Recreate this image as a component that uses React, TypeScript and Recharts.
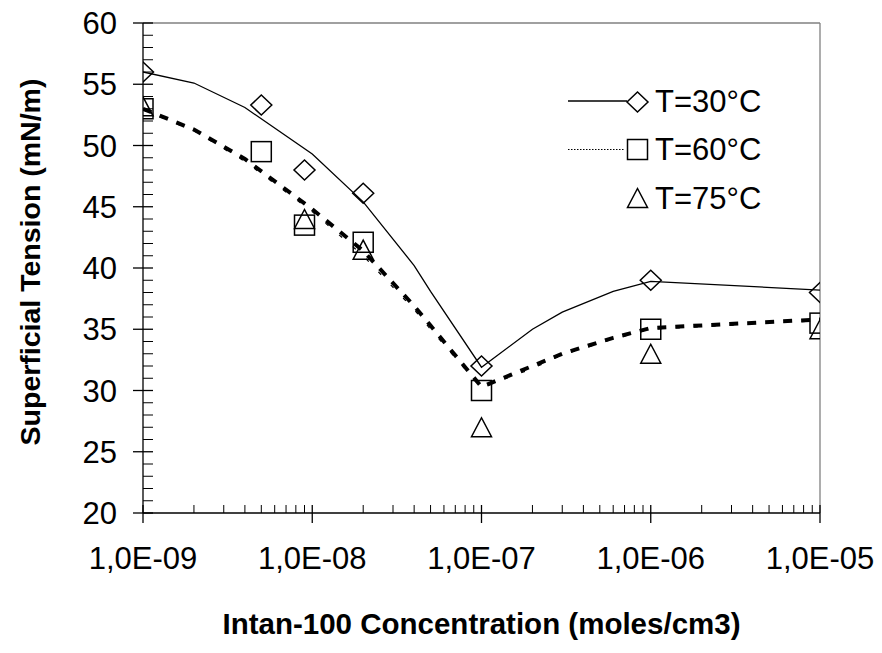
import React from 'react';
import { ComposedChart, Line, Scatter, XAxis, YAxis, ReferenceLine, Legend } from 'recharts';

// Measured points (markers)
const concentrations = [1e-9, 5e-9, 9e-9, 2e-8, 1e-7, 1e-6, 1e-5];
const tension30 = [56, 53.3, 48, 46.1, 32, 39, 38];
const tension60 = [53, 49.5, 43.5, 42.1, 30, 35, 35.5];
const tension75: (number | null)[] = [53.2, null, 44, 41.5, 27, 33, 35];

// Fitted curves (lines)
const curveConc = [1e-9, 2e-9, 4e-9, 1e-8, 2e-8, 4e-8, 5e-8, 1e-7, 2e-7, 3e-7, 6e-7, 1e-6, 1e-5];
const curve30 = [56.0, 55.1, 53.1, 49.3, 45.4, 40.2, 38.1, 31.9, 35.0, 36.4, 38.1, 38.9, 38.2];
const curve60 = [53.0, 51.3, 48.9, 44.8, 41.4, 36.9, 35.3, 30.3, 32.0, 33.0, 34.3, 35.1, 35.8];
const curve75 = [52.9, 51.2, 48.7, 44.6, 41.0, 36.6, 35.0, 30.2, 31.8, 32.9, 34.2, 35.0, 35.7];

// Axis ticks
const xMajorTicks = [1e-9, 1e-8, 1e-7, 1e-6, 1e-5];
const xMinorMultipliers = [1, 2, 3, 4, 5, 6, 7, 8, 9];
const yMajorTicks = [20, 25, 30, 35, 40, 45, 50, 55, 60];
const yAllTicks = [20, 21, 22, 23, 24, 25, 26, 27, 28, 29, 30, 31, 32, 33, 34, 35, 36, 37, 38, 39, 40, 41, 42, 43, 44, 45, 46, 47, 48, 49, 50, 51, 52, 53, 54, 55, 56, 57, 58, 59, 60];

const legendNames = ['T=30°C', 'T=60°C', 'T=75°C'];
const xTitle = 'Intan-100 Concentration (moles/cm3)';
const yTitle = 'Superficial Tension (mN/m)';

const FONT = '"Liberation Sans", Arial, sans-serif';

const xAllTicks: number[] = [];
xMajorTicks.slice(0, -1).forEach((d) => xMinorMultipliers.forEach((m) => xAllTicks.push(d * m)));
xAllTicks.push(xMajorTicks[xMajorTicks.length - 1]);

const isXMajor = (v: number) => xMajorTicks.some((t) => Math.abs(t - v) / t < 1e-6);
const isYMajor = (v: number) => yMajorTicks.includes(v);

const toPoints = (xs: number[], ys: (number | null)[]) =>
  xs.map((x, i) => ({ x, y: ys[i] })).filter((p) => p.y !== null && p.y !== undefined);

const pts30 = toPoints(concentrations, tension30);
const pts60 = toPoints(concentrations, tension60);
const pts75 = toPoints(concentrations, tension75);
const line30 = toPoints(curveConc, curve30);
const line60 = toPoints(curveConc, curve60);
const line75 = toPoints(curveConc, curve75);

const fmtX = (v: number) => {
  const e = Math.round(Math.log10(v));
  const s = String(Math.abs(e)).padStart(2, '0');
  return `1,0E${e < 0 ? '-' : '+'}${s}`;
};

const XTick = (props: any) => {
  const { x, y, payload } = props;
  const v = payload.value;
  if (isXMajor(v)) {
    return (
      <g>
        <line x1={x} x2={x} y1={y - 8} y2={y + 10} stroke="#000" strokeWidth={1.3} />
        <text x={x} y={y + 34} dy="0.71em" textAnchor="middle" fontFamily={FONT} fontSize={31} fill="#000">
          {fmtX(v)}
        </text>
      </g>
    );
  }
  return <line x1={x} x2={x} y1={y - 8} y2={y} stroke="#000" strokeWidth={1} />;
};

const YTick = (props: any) => {
  const { x, y, payload } = props;
  const v = payload.value;
  if (isYMajor(v)) {
    return (
      <g>
        <line x1={x - 10} x2={x + 10} y1={y} y2={y} stroke="#000" strokeWidth={1.3} />
        <text x={x - 26} y={y} dy="0.355em" textAnchor="end" fontFamily={FONT} fontSize={31} fill="#000">
          {v}
        </text>
      </g>
    );
  }
  return <line x1={x} x2={x + 10} y1={y} y2={y} stroke="#000" strokeWidth={1} />;
};

const MS = 1.5;
const Diamond = (props: any) => {
  const { cx, cy } = props;
  return (
    <polygon
      points={`${cx},${cy - 10} ${cx + 10.5},${cy} ${cx},${cy + 10} ${cx - 10.5},${cy}`}
      fill="none"
      stroke="#000"
      strokeWidth={MS}
    />
  );
};
const Square = (props: any) => {
  const { cx, cy } = props;
  return <rect x={cx - 10} y={cy - 10} width={20} height={20} fill="none" stroke="#000" strokeWidth={MS} />;
};
const Triangle = (props: any) => {
  const { cx, cy } = props;
  return (
    <polygon
      points={`${cx},${cy - 9.5} ${cx + 10},${cy + 9.5} ${cx - 10},${cy + 9.5}`}
      fill="none"
      stroke="#000"
      strokeWidth={MS}
    />
  );
};

const markerShapes = [Diamond, Square, Triangle];

const LegendContent = () => (
  <svg width={240} height={150} style={{ display: 'block', overflow: 'visible' }}>
    {legendNames.map((name, i) => {
      const cy = 23 + i * 48.5;
      const Shape = markerShapes[i];
      return (
        <g key={name}>
          {i === 0 && <line x1={8} x2={67} y1={cy} y2={cy} stroke="#000" strokeWidth={1.3} />}
          {i === 1 && <line x1={8} x2={65} y1={cy} y2={cy} stroke="#000" strokeWidth={1} strokeDasharray="1.5 1.5" />}
          <Shape cx={77.5} cy={cy + (i === 0 ? 1 : 0)} />
          <text x={95} y={cy} dominantBaseline="central" fontFamily={FONT} fontSize={31} fill="#000">
            {name}
          </text>
        </g>
      );
    })}
  </svg>
);

const XTitle = (props: any) => {
  const { viewBox } = props;
  if (!viewBox) return null;
  return (
    <text
      x={viewBox.x + viewBox.width / 2}
      y={viewBox.y + 110}
      textAnchor="middle"
      dominantBaseline="central"
      fontFamily={FONT}
      fontWeight="bold"
      fontSize={29.5}
      fill="#000"
    >
      {xTitle}
    </text>
  );
};

const YTitle = (props: any) => {
  const { viewBox } = props;
  if (!viewBox) return null;
  const x = viewBox.x + 30;
  const y = viewBox.y + viewBox.height / 2 - 6;
  return (
    <text
      x={x}
      y={y}
      transform={`rotate(-90 ${x} ${y})`}
      textAnchor="middle"
      dominantBaseline="central"
      fontFamily={FONT}
      fontWeight="bold"
      fontSize={28.5}
      fill="#000"
    >
      {yTitle}
    </text>
  );
};

export default function App() {
  return (
    <div style={{ position: 'absolute', left: 0, top: 0, background: '#fff' }}>
      <ComposedChart width={882} height={653} margin={{ top: 23, right: 62, bottom: 0, left: 0 }}>
        <XAxis
          dataKey="x"
          type="number"
          scale="log"
          domain={[1e-9, 1e-5]}
          allowDataOverflow
          ticks={xAllTicks}
          interval={0}
          height={140}
          tickSize={0}
          tickMargin={0}
          axisLine={{ stroke: '#000', strokeWidth: 1.3 }}
          tickLine={false}
          tick={<XTick />}
          label={<XTitle />}
        />
        <YAxis
          type="number"
          domain={[20, 60]}
          allowDataOverflow
          ticks={yAllTicks}
          interval={0}
          width={143}
          tickSize={0}
          tickMargin={0}
          axisLine={{ stroke: '#000', strokeWidth: 1.3 }}
          tickLine={false}
          tick={<YTick />}
          label={<YTitle />}
        />
        <ReferenceLine y={60} stroke="#808080" strokeWidth={1.3} />
        <ReferenceLine x={1e-5} stroke="#808080" strokeWidth={1.3} />
        <Line data={line60} dataKey="y" type="linear" stroke="#000" strokeWidth={4} strokeDasharray="9 9" dot={false} isAnimationActive={false} legendType="none" />
        <Line data={line75} dataKey="y" type="linear" stroke="#000" strokeWidth={1.2} strokeDasharray="4 14" dot={false} isAnimationActive={false} legendType="none" />
        <Line data={line30} dataKey="y" type="linear" stroke="#000" strokeWidth={1.3} dot={false} isAnimationActive={false} legendType="none" />
        <Scatter data={pts30} dataKey="y" name={legendNames[0]} shape={Diamond} isAnimationActive={false} />
        <Scatter data={pts60} dataKey="y" name={legendNames[1]} shape={Square} isAnimationActive={false} />
        <Scatter data={pts75} dataKey="y" name={legendNames[2]} shape={Triangle} isAnimationActive={false} />
        <Legend
          layout="horizontal"
          verticalAlign="middle"
          align="center"
          content={<LegendContent />}
          wrapperStyle={{ left: 560, top: 78, width: 240, height: 150 }}
        />
      </ComposedChart>
    </div>
  );
}
